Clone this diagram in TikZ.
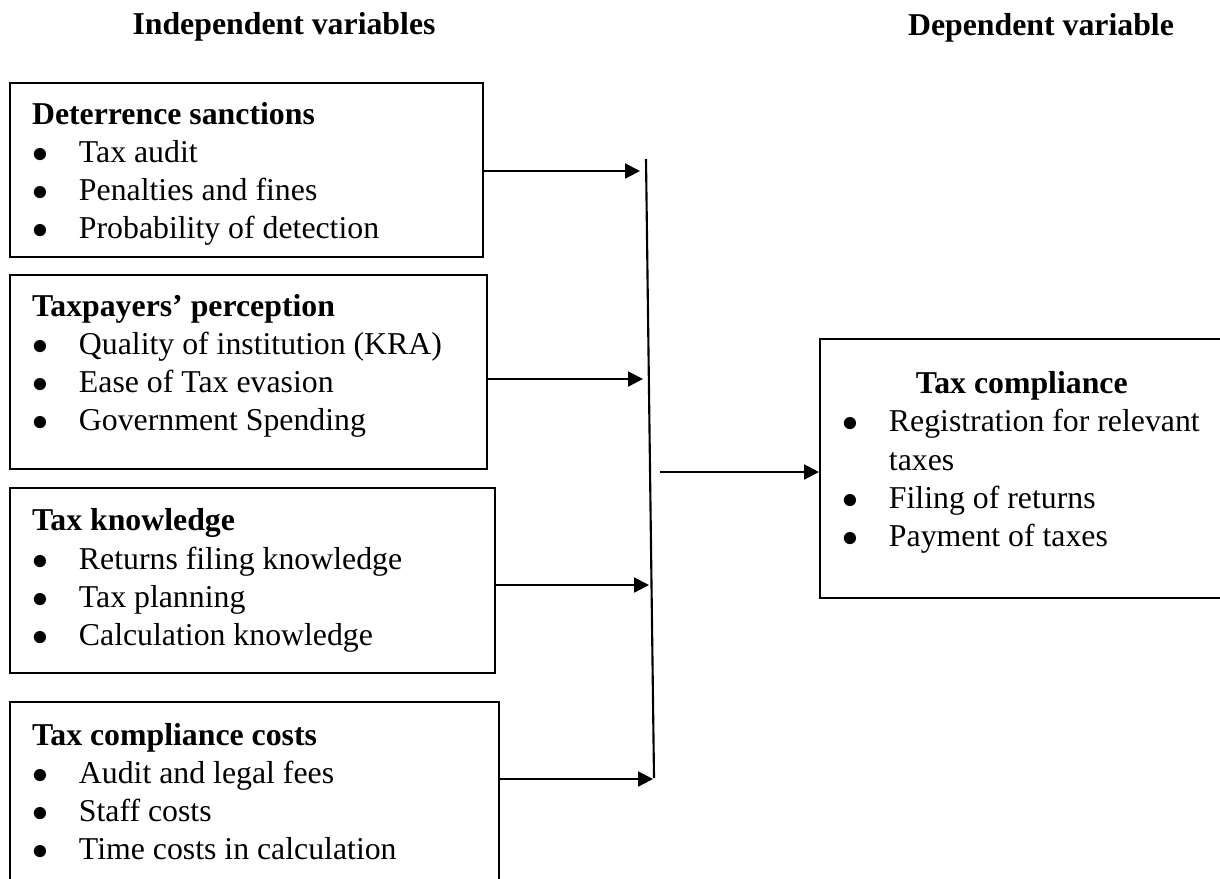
\documentclass[tikz,border=0pt]{standalone}
\usepackage{fontspec}
\setmainfont{Liberation Serif}
\usetikzlibrary{arrows.meta,positioning}
\newcommand{\bul}{\makebox[17.7pt][l]{$\bullet$}}
\tikzset{
  varbox/.style={rectangle, draw=black, line width=0.8pt, anchor=north west,
    align=flush left, inner xsep=8.3pt, inner ysep=2pt,
    font=\fontsize{12}{14.4}\selectfont},
  hdr/.style={font=\fontsize{12}{14.4}\selectfont\bfseries},
  flow/.style={-{Triangle[length=5.6pt,width=5.6pt]}, line width=0.8pt},
}
\begin{document}
\begin{tikzpicture}[x=0.3774pt, y=-0.3774pt]
\useasboundingbox (0,0) rectangle (1220,878);
% headings
\node[hdr] (indep) at (284,27)  {Independent variables};
\node[hdr] (dep)   at (1041,28) {Dependent variable};
% independent variables
\node[varbox, text width=161.9pt, minimum height=65.7pt] (deter) at (9,82)
  {\rule{0pt}{11.2pt}\textbf{Deterrence sanctions}\\ \bul Tax audit\\
   \bul Penalties and fines\\ \bul Probability of detection};
\node[varbox, text width=163.4pt, minimum height=73.2pt] (percep) at (9,274)
  {\textbf{Taxpayers’ perception}\\ \bul Quality of institution (KRA)\\
   \bul Ease of Tax evasion\\ \bul Government Spending\rule[-7.1pt]{0pt}{0pt}};
\node[varbox, text width=166.4pt, minimum height=69.8pt] (know) at (9,487)
  {\textbf{Tax knowledge}\\ \bul Returns filing knowledge\\ \bul Tax planning\\
   \bul Calculation knowledge};
\node[varbox, text width=167.9pt, minimum height=67.6pt] (costs) at (9,701)
  {\textbf{Tax compliance costs}\\ \bul Audit and legal fees\\ \bul Staff costs\\
   \bul Time costs in calculation};
% dependent variable
\node[varbox, text width=141.9pt, minimum height=97.7pt] (comp) at (819,338)
  {\hspace*{27.9pt}\textbf{Tax compliance}\\ \bul Registration for relevant\\
   \hspace*{17.7pt}taxes\\ \bul Filing of returns\\
   \bul Payment of taxes\rule[-7.1pt]{0pt}{0pt}};
% collecting bar
\coordinate (bartop) at (646,159);
\coordinate (barbot) at (654,778);
\coordinate (in1) at (640,171);
\coordinate (in2) at (643,379);
\coordinate (in3) at (649,585);
\coordinate (in4) at (653,779);
\coordinate (out) at (660,472);
\draw[line width=0.8pt] (bartop) -- (barbot);
% edges
\draw[flow] (deter.east  |- in1) -- (in1);
\draw[flow] (percep.east |- in2) -- (in2);
\draw[flow] (know.east   |- in3) -- (in3);
\draw[flow] (costs.east  |- in4) -- (in4);
\draw[flow] (out) -- (out -| comp.west);
\end{tikzpicture}
\end{document}
